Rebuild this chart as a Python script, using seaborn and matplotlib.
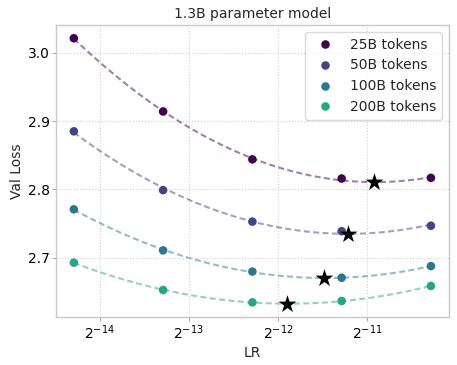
import numpy as np
import pandas as pd
import matplotlib
matplotlib.use("Agg")
import matplotlib.pyplot as plt
import seaborn as sns

# ---- data ----
lrs = [5e-5, 1e-4, 2e-4, 4e-4, 8e-4]
token_labels = ["25B tokens", "50B tokens", "100B tokens", "200B tokens"]
loss_25b = [3.021, 2.914, 2.844, 2.816, 2.817]
loss_50b = [2.885, 2.799, 2.753, 2.739, 2.747]
loss_100b = [2.771, 2.711, 2.680, 2.671, 2.688]
loss_200b = [2.693, 2.653, 2.635, 2.637, 2.659]
opt_lr = [5.13e-4, 4.2e-4, 3.5e-4, 2.61e-4]
opt_loss = [2.811, 2.735, 2.671, 2.633]
xtick_exps = [-14, -13, -12, -11]
colors = ["#440154", "#414487", "#2a788e", "#22a884"]

series = [loss_25b, loss_50b, loss_100b, loss_200b]
df = pd.DataFrame({
    "log2lr": np.tile(np.log2(lrs), len(series)),
    "loss": np.concatenate(series),
    "tokens": np.repeat(token_labels, len(lrs)),
})
opt_df = pd.DataFrame({"log2lr": np.log2(opt_lr), "loss": opt_loss})

sns.set_theme(style="whitegrid", rc={
    "grid.linestyle": ":",
    "grid.color": "#d0d0d0",
    "grid.linewidth": 0.8,
    "axes.edgecolor": "#c8c8c8",
    "axes.linewidth": 1.0,
    "xtick.bottom": True,
    "ytick.left": True,
    "xtick.major.size": 3,
    "ytick.major.size": 3,
    "xtick.major.width": 0.8,
    "ytick.major.width": 0.8,
    "xtick.major.pad": 1.5,
    "ytick.major.pad": 1.5,
    "xtick.color": "#aaaaaa",
    "ytick.color": "#aaaaaa",
    "xtick.labelcolor": "black",
    "ytick.labelcolor": "black",
})
plt.rcParams["font.family"] = ["DejaVu Sans"]

fig = plt.figure(figsize=(4.57, 3.65), dpi=100)
ax = fig.add_axes([0.1225, 0.1315, 0.8595, 0.80])

for lab, c in zip(token_labels, colors):
    sub = df[df["tokens"] == lab]
    sns.regplot(data=sub, x="log2lr", y="loss", order=2, ci=None, scatter=False,
                color=c, ax=ax, truncate=True,
                line_kws=dict(ls=(0, (2.9, 1.6)), lw=1.5, alpha=0.5))

sns.scatterplot(data=df, x="log2lr", y="loss", hue="tokens", palette=colors,
                s=38, linewidth=0, ax=ax, zorder=3)
sns.scatterplot(data=opt_df, x="log2lr", y="loss", marker="*", color="black",
                s=180, linewidth=0, ax=ax, zorder=4, legend=False)

ax.set_xticks(xtick_exps)
ax.set_xticklabels([f"$2^{{{e}}}$" for e in xtick_exps], fontsize=10)
ax.set_yticks([2.7, 2.8, 2.9, 3.0])
ax.tick_params(axis="y", labelsize=10)
ax.set_xlabel("LR", fontsize=10, labelpad=3)
ax.set_ylabel("Val Loss", fontsize=10, labelpad=3)
ax.set_title("1.3B parameter model", fontsize=10, pad=5)
ax.margins(x=0.05, y=0.05)
ax.legend(loc="upper right", fontsize=10, title=None, frameon=True,
          edgecolor="#d0d0d0", fancybox=True)

fig.savefig("out.png", dpi=100)
